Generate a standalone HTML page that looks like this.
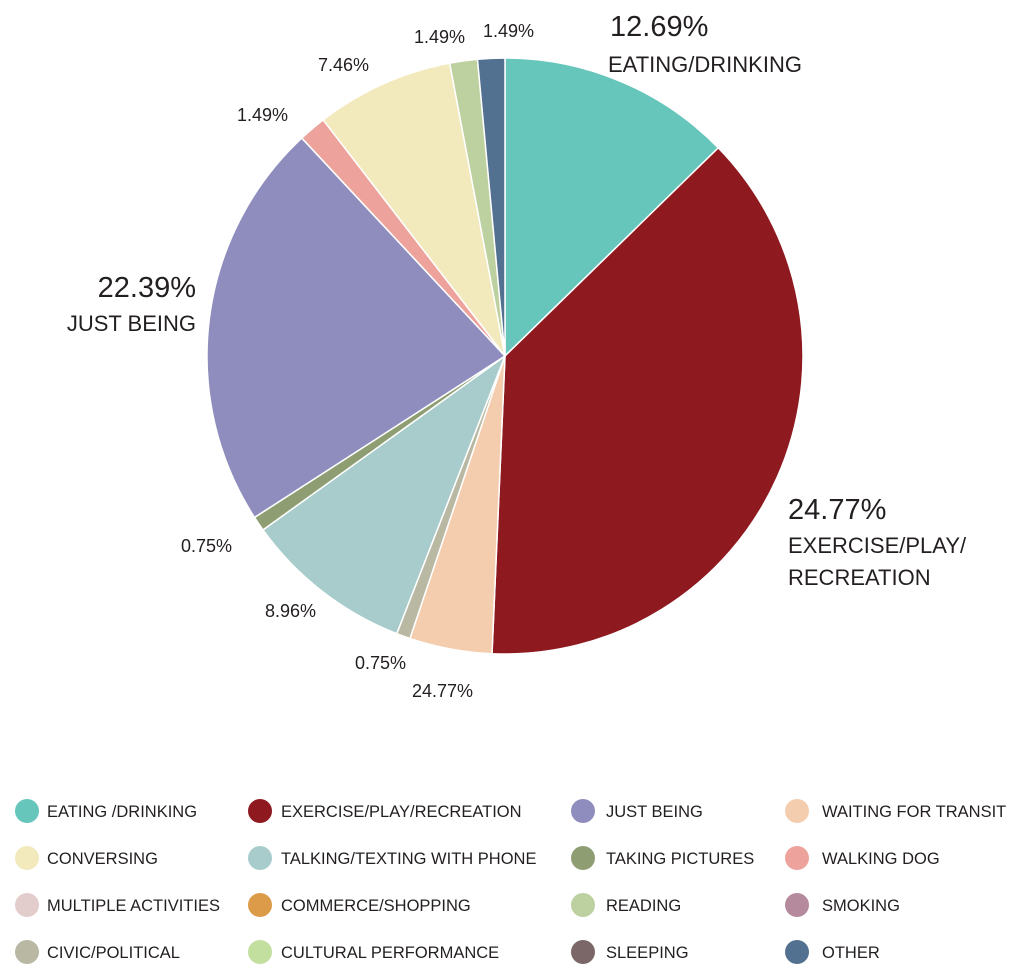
<!DOCTYPE html>
<html><head><meta charset="utf-8"><style>
body{margin:0;background:#fff;width:1024px;height:974px;overflow:hidden}
svg text{font-family:"Liberation Sans",sans-serif;fill:#231f20}
</style></head><body>
<svg width="1024" height="974" viewBox="0 0 1024 974" xmlns="http://www.w3.org/2000/svg">
<g id="pie" stroke="#fff" stroke-width="1.5"></g>
<g font-size="18">
<text x="610" y="36" font-size="29">12.69%</text>
<text x="608" y="72" font-size="22">EATING/DRINKING</text>
<text x="788" y="519" font-size="29">24.77%</text>
<text x="788" y="553" font-size="22">EXERCISE/PLAY/</text>
<text x="788" y="585" font-size="22">RECREATION</text>
<text x="196" y="297" font-size="29" text-anchor="end">22.39%</text>
<text x="196" y="331" font-size="22" text-anchor="end">JUST BEING</text>
<text x="237" y="121">1.49%</text>
<text x="318" y="71">7.46%</text>
<text x="414" y="43">1.49%</text>
<text x="483" y="37">1.49%</text>
<text x="181" y="552">0.75%</text>
<text x="265" y="617">8.96%</text>
<text x="355" y="669">0.75%</text>
<text x="412" y="697">24.77%</text>
</g>
<g id="leg" font-size="16.5"></g>
</svg>
<script>
const cx=505,cy=356,r=298;
const sl=[[0,45.7,"#66c6bb"],[45.7,182.5,"#8e1a20"],[182.5,198.6,"#f4cdae"],[198.6,201.3,"#b9b8a3"],[201.3,234.3,"#a8cccb"],[234.3,237.2,"#8f9e72"],[237.2,317,"#8f8dbd"],[317,322.4,"#eda39c"],[322.4,349.3,"#f2e9bd"],[349.3,354.7,"#bdd0a0"],[354.7,360,"#52708f"]];
const p=a=>{a=a*Math.PI/180;return[cx+r*Math.sin(a),cy-r*Math.cos(a)]};
let h="";
for(const[a,b,c]of sl){const[x1,y1]=p(a),[x2,y2]=p(b);h+=`<path d="M${cx},${cy}L${x1},${y1}A${r},${r} 0 ${b-a>180?1:0} 1 ${x2},${y2}Z" fill="${c}"/>`;}
document.getElementById("pie").innerHTML=h;
const L=[["EATING /DRINKING","#66c6bb"],["EXERCISE/PLAY/RECREATION","#8e1a20"],["JUST BEING","#8f8dbd"],["WAITING FOR TRANSIT","#f4cdae"],
["CONVERSING","#f2e9bd"],["TALKING/TEXTING WITH PHONE","#a8cccb"],["TAKING PICTURES","#8f9e72"],["WALKING DOG","#eda39c"],
["MULTIPLE ACTIVITIES","#e3cccc"],["COMMERCE/SHOPPING","#dc9b48"],["READING","#bdd0a0"],["SMOKING","#b48a9c"],
["CIVIC/POLITICAL","#b9b8a3"],["CULTURAL PERFORMANCE","#c2dfa0"],["SLEEPING","#7b6767"],["OTHER","#52708f"]];
const cxs=[27,260,583,797],txs=[47,281,606,822],ys=[811,858,905,952];
let g="";
L.forEach(([t,c],i)=>{const col=i%4,row=Math.floor(i/4);g+=`<circle cx="${cxs[col]}" cy="${ys[row]}" r="12" fill="${c}"/><text x="${txs[col]}" y="${ys[row]+6}">${t}</text>`;});
document.getElementById("leg").innerHTML=g;
</script>
</body></html>
